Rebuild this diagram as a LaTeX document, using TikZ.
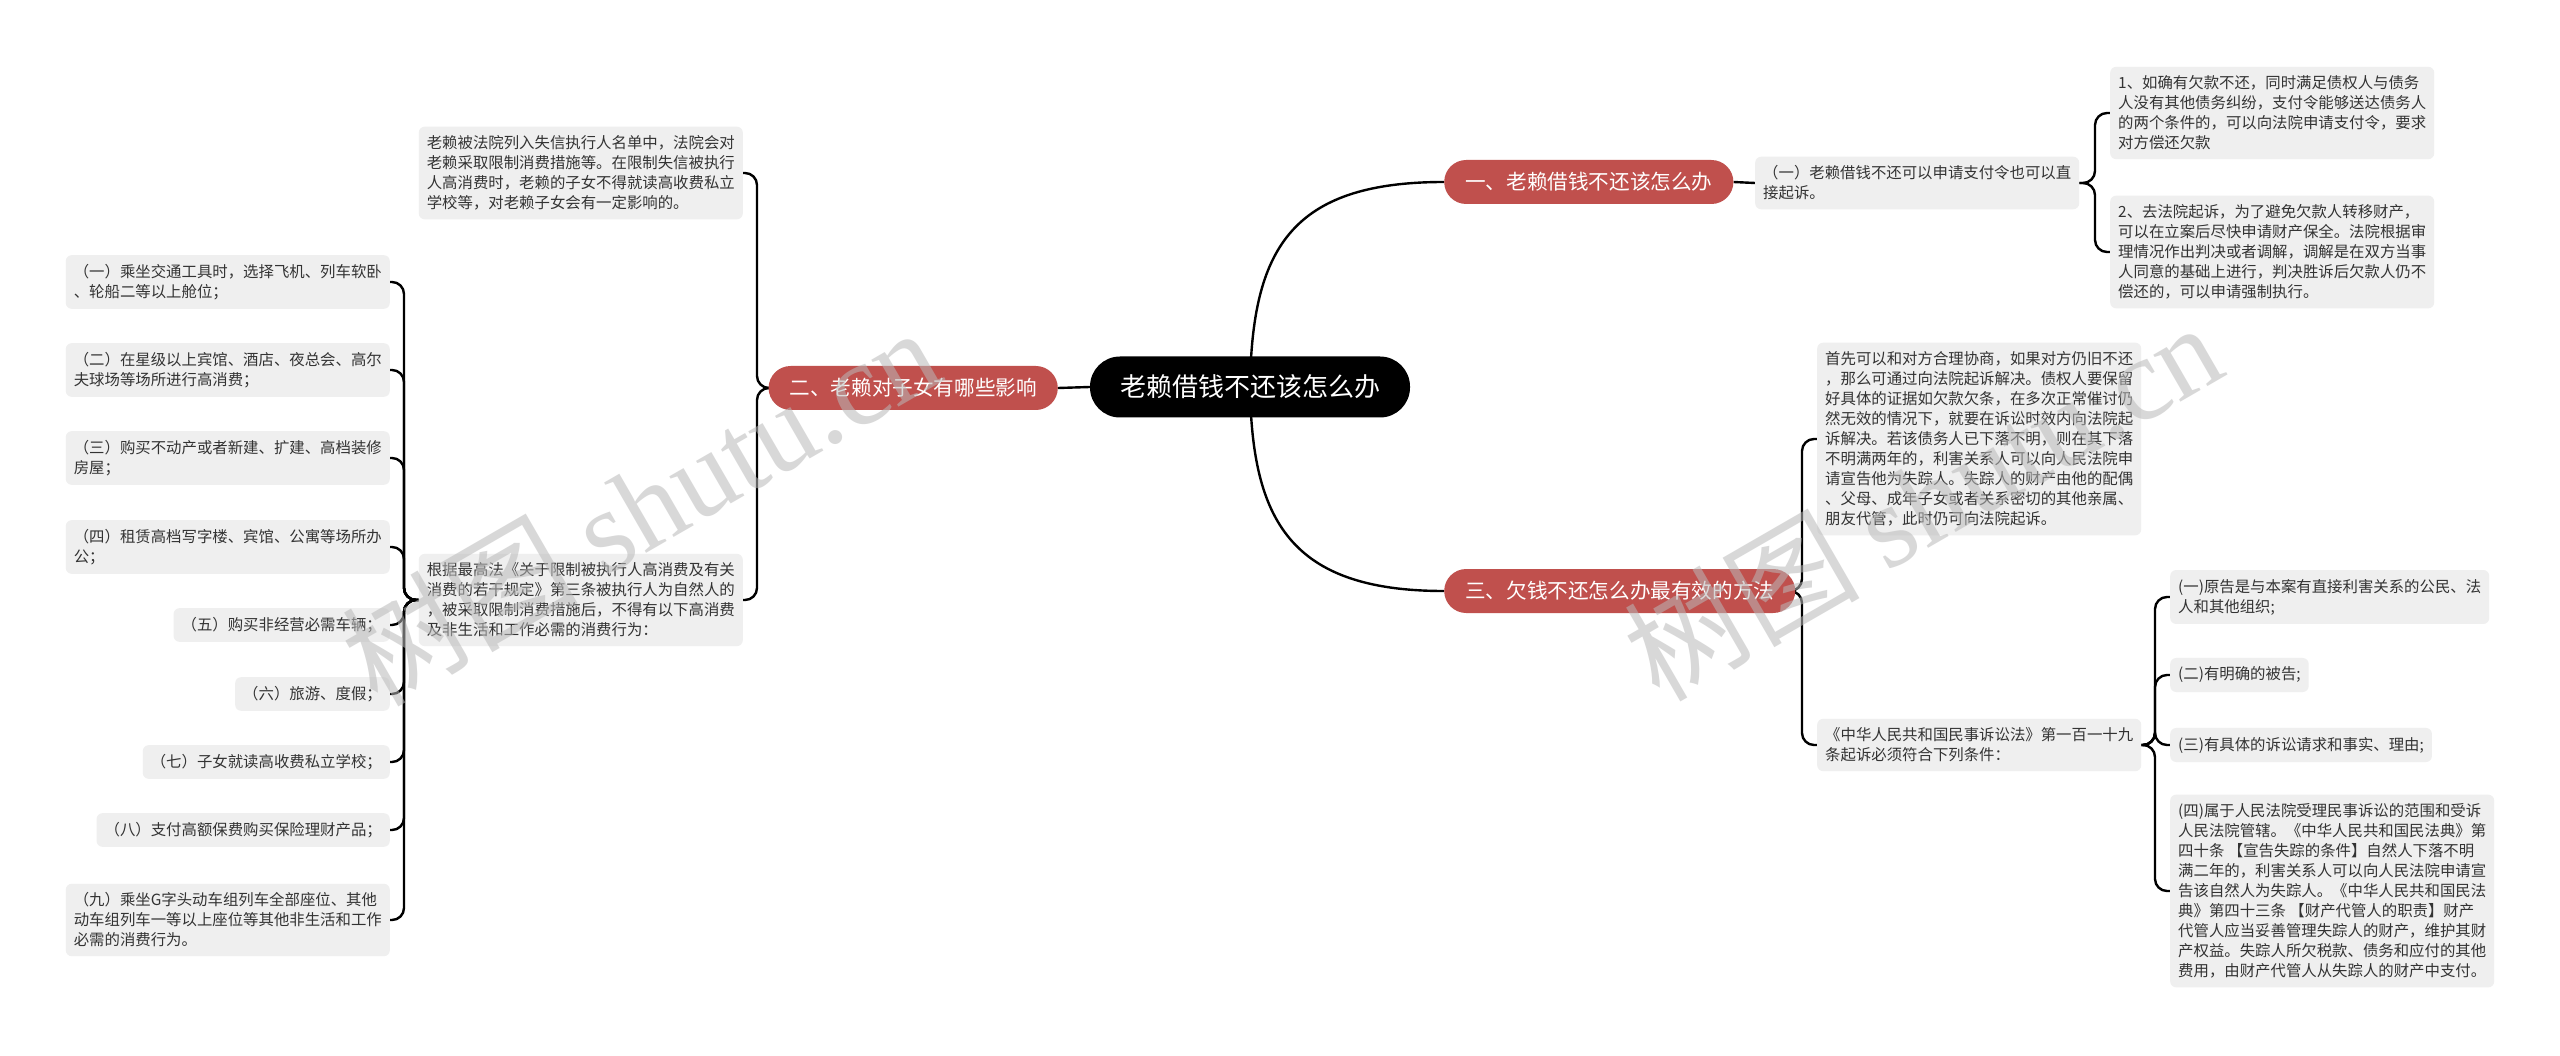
\documentclass[tikz,border=0pt]{standalone}
\usepackage{fontspec}
\setmainfont{Noto Sans CJK SC}
\newfontfamily\wmserif{Liberation Serif}
\usetikzlibrary{positioning,calc,backgrounds}
\definecolor{topicRed}{RGB}{192,80,77}
\definecolor{leafBg}{RGB}{239,239,239}
\definecolor{leafText}{RGB}{51,51,51}
\definecolor{lineCol}{RGB}{0,0,0}
\definecolor{markGray}{RGB}{185,185,185}
\tikzset{
  root/.style={rectangle,rounded corners=30pt,fill=black,text=white,
    minimum height=61pt,inner xsep=30pt,font=\fontsize{26}{30}\selectfont},
  topic/.style={rectangle,rounded corners=22pt,fill=topicRed,text=white,
    minimum height=44pt,inner xsep=21pt,font=\fontsize{20.6}{25}\selectfont},
  leaf/.style={rectangle,rounded corners=6pt,fill=leafBg,text=leafText,
    inner xsep=8pt,inner ysep=9pt,align=left,
    font=\fontsize{15.4}{20}\selectfont},
  link/.style={draw=lineCol,line width=2.4pt},
  brace/.style={link,rounded corners=12pt},
  wmark/.style={text=markGray,opacity=0.55,rotate=30,
    font=\fontsize{118}{118}\selectfont},
}

\begin{document}
\begin{tikzpicture}[x=1pt,y=-1pt]

% ============================================================
%  CENTRE
% ============================================================
\node[root] (root) at (1250,387) {老赖借钱不还该怎么办};

% ============================================================
%  MAIN TOPICS
% ============================================================
\node[topic,anchor=west] (t1) at (1444,182) {一、老赖借钱不还该怎么办};
\node[topic,anchor=east] (t2) at (1058,388) {二、老赖对子女有哪些影响};
\node[topic,anchor=west] (t3) at (1444,591) {三、欠钱不还怎么办最有效的方法};

% ============================================================
%  TOPIC 1 — right, top
% ============================================================
\node[leaf,anchor=west] (l1) at (1755,183)
  {（一）老赖借钱不还可以申请支付令也可以直\\接起诉。};
\node[leaf,anchor=west] (l1a) at (2110,113)
  {1、如确有欠款不还，同时满足债权人与债务\\人没有其他债务纠纷，支付令能够送达债务人\\的两个条件的，可以向法院申请支付令，要求\\对方偿还欠款};
\node[leaf,anchor=west] (l1b) at (2110,252)
  {2、去法院起诉，为了避免欠款人转移财产，\\可以在立案后尽快申请财产保全。法院根据审\\理情况作出判决或者调解，调解是在双方当事\\人同意的基础上进行，判决胜诉后欠款人仍不\\偿还的，可以申请强制执行。};

% ============================================================
%  TOPIC 2 — left
% ============================================================
\node[leaf,anchor=east] (l2a) at (743,173)
  {老赖被法院列入失信执行人名单中，法院会对\\老赖采取限制消费措施等。在限制失信被执行\\人高消费时，老赖的子女不得就读高收费私立\\学校等，对老赖子女会有一定影响的。};
\node[leaf,anchor=east] (l2b) at (743,600)
  {根据最高法《关于限制被执行人高消费及有关\\消费的若干规定》第三条被执行人为自然人的\\，被采取限制消费措施后，不得有以下高消费\\及非生活和工作必需的消费行为：};

% --- the nine items ---
\node[leaf,anchor=east] (c1) at (390,282)
  {（一）乘坐交通工具时，选择飞机、列车软卧\\、轮船二等以上舱位；};
\node[leaf,anchor=east] (c2) at (390,370)
  {（二）在星级以上宾馆、酒店、夜总会、高尔\\夫球场等场所进行高消费；};
\node[leaf,anchor=east] (c3) at (390,458)
  {（三）购买不动产或者新建、扩建、高档装修\\房屋；};
\node[leaf,anchor=east] (c4) at (390,547)
  {（四）租赁高档写字楼、宾馆、公寓等场所办\\公；};
\node[leaf,anchor=east] (c5) at (390,625) {（五）购买非经营必需车辆；};
\node[leaf,anchor=east] (c6) at (390,694) {（六）旅游、度假；};
\node[leaf,anchor=east] (c7) at (390,762) {（七）子女就读高收费私立学校；};
\node[leaf,anchor=east] (c8) at (390,830) {（八）支付高额保费购买保险理财产品；};
\node[leaf,anchor=east] (c9) at (390,920)
  {（九）乘坐G字头动车组列车全部座位、其他\\动车组列车一等以上座位等其他非生活和工作\\必需的消费行为。};

% ============================================================
%  TOPIC 3 — right, bottom
% ============================================================
\node[leaf,anchor=west] (l3a) at (1817,439)
  {首先可以和对方合理协商，如果对方仍旧不还\\，那么可通过向法院起诉解决。债权人要保留\\好具体的证据如欠款欠条，在多次正常催讨仍\\然无效的情况下，就要在诉讼时效内向法院起\\诉解决。若该债务人已下落不明，则在其下落\\不明满两年的，利害关系人可以向人民法院申\\请宣告他为失踪人。失踪人的财产由他的配偶\\、父母、成年子女或者关系密切的其他亲属、\\朋友代管，此时仍可向法院起诉。};
\node[leaf,anchor=west] (l3b) at (1817,745)
  {《中华人民共和国民事诉讼法》第一百一十九\\条起诉必须符合下列条件：};

% --- the four conditions ---
\node[leaf,anchor=west] (d1) at (2170,597)
  {(一)原告是与本案有直接利害关系的公民、法\\人和其他组织;};
\node[leaf,anchor=west] (d2) at (2170,675) {(二)有明确的被告;};
\node[leaf,anchor=west] (d3) at (2170,745) {(三)有具体的诉讼请求和事实、理由;};
\node[leaf,anchor=west] (d4) at (2170,891)
  {(四)属于人民法院受理民事诉讼的范围和受诉\\人民法院管辖。《中华人民共和国民法典》第\\四十条 【宣告失踪的条件】自然人下落不明\\满二年的，利害关系人可以向人民法院申请宣\\告该自然人为失踪人。《中华人民共和国民法\\典》第四十三条 【财产代管人的职责】财产\\代管人应当妥善管理失踪人的财产，维护其财\\产权益。失踪人所欠税款、债务和应付的其他\\费用，由财产代管人从失踪人的财产中支付。};

% ============================================================
%  CONNECTORS (behind the nodes)
% ============================================================
\begin{scope}[on background layer]
  \fill[white] (0,0) rectangle (2560,1056);

  % centre -> topics
  \draw[link] (root.center) .. controls (1252,250) and (1290,182) .. (t1.west);
  \draw[link] (root.west) -- (t2.east);
  \draw[link] (root.center) .. controls (1252,520) and (1290,591) .. (t3.west);

  % topic 1
  \draw[link] (t1.east) -- (l1.west);
  \draw[brace] (l1.east) -- ([xshift=-15pt]l1a.west |- l1.east) |- (l1a.west);
  \draw[brace] (l1.east) -- ([xshift=-15pt]l1b.west |- l1.east) |- (l1b.west);

  % topic 2
  \draw[brace] (t2.west) -- ([xshift=14pt]l2a.east |- t2.west) |- (l2a.east);
  \draw[brace] (t2.west) -- ([xshift=14pt]l2b.east |- t2.west) |- (l2b.east);
  \draw[brace] (l2b.west) -- ([xshift=14pt]c1.east |- l2b.west) |- (c1.east);
  \draw[brace] (l2b.west) -- ([xshift=14pt]c2.east |- l2b.west) |- (c2.east);
  \draw[brace] (l2b.west) -- ([xshift=14pt]c3.east |- l2b.west) |- (c3.east);
  \draw[brace] (l2b.west) -- ([xshift=14pt]c4.east |- l2b.west) |- (c4.east);
  \draw[brace] (l2b.west) -- ([xshift=14pt]c5.east |- l2b.west) |- (c5.east);
  \draw[brace] (l2b.west) -- ([xshift=14pt]c6.east |- l2b.west) |- (c6.east);
  \draw[brace] (l2b.west) -- ([xshift=14pt]c7.east |- l2b.west) |- (c7.east);
  \draw[brace] (l2b.west) -- ([xshift=14pt]c8.east |- l2b.west) |- (c8.east);
  \draw[brace] (l2b.west) -- ([xshift=14pt]c9.east |- l2b.west) |- (c9.east);

  % topic 3
  \draw[brace] (t3.east) -- ([xshift=-15pt]l3a.west |- t3.east) |- (l3a.west);
  \draw[brace] (t3.east) -- ([xshift=-15pt]l3b.west |- t3.east) |- (l3b.west);
  \draw[brace] (l3b.east) -- ([xshift=-15pt]d1.west |- l3b.east) |- (d1.west);
  \draw[brace] (l3b.east) -- ([xshift=-15pt]d2.west |- l3b.east) |- (d2.west);
  \draw[brace] (l3b.east) -- ([xshift=-15pt]d3.west |- l3b.east) |- (d3.west);
  \draw[brace] (l3b.east) -- ([xshift=-15pt]d4.west |- l3b.east) |- (d4.west);
\end{scope}

% ============================================================
%  WATERMARKS
% ============================================================
\node[wmark] (wm1) at (640,505) {树图 {\wmserif shutu.cn}};
\node[wmark] (wm2) at (1922,500) {树图 {\wmserif shutu.cn}};

\end{tikzpicture}
\end{document}
